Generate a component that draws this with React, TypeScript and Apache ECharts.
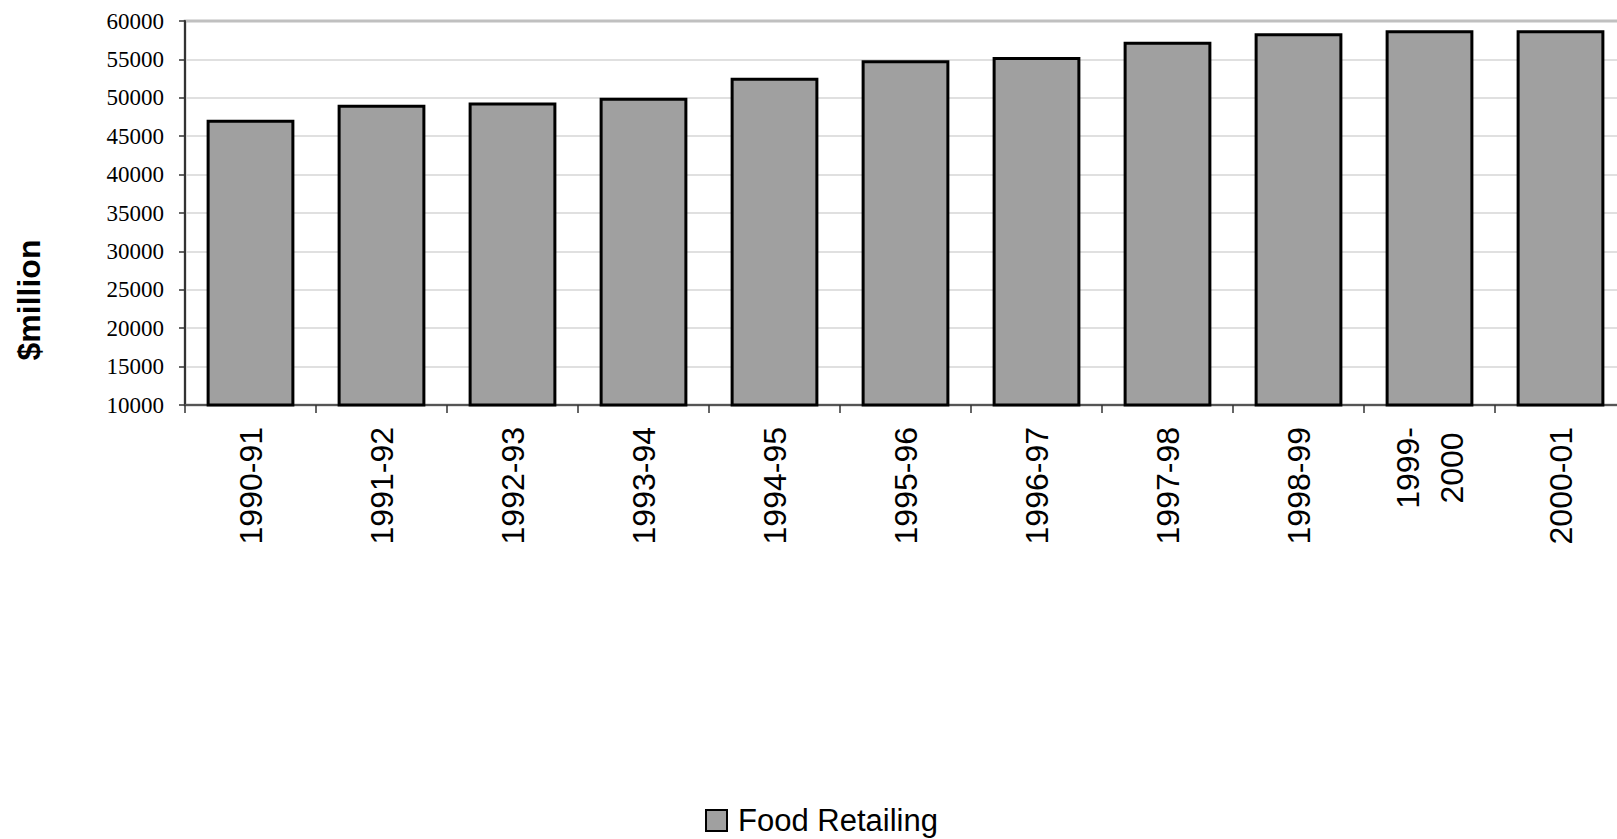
import React, { useEffect, useRef } from "react";
import * as echarts from "echarts";

const categories = [
  "1990-91",
  "1991-92",
  "1992-93",
  "1993-94",
  "1994-95",
  "1995-96",
  "1996-97",
  "1997-98",
  "1998-99",
  "1999-2000",
  "2000-01",
];
const foodRetailing = [47150, 49100, 49400, 50000, 52600, 54900, 55300, 57300, 58400, 58800, 58800];
const seriesName = "Food Retailing";
const yAxisTitle = "$million";
const yMin = 10000;
const yMax = 60000;
const yInterval = 5000;

const SANS = 'Arial, "Liberation Sans", sans-serif';
const SERIF = '"Times New Roman", "Liberation Serif", serif';

export default function App() {
  const ref = useRef<HTMLDivElement>(null);
  useEffect(() => {
    if (!ref.current) return;
    const chart = echarts.init(ref.current, null, { renderer: "svg" });
    chart.setOption({
      animation: false,
      backgroundColor: "#ffffff",
      grid: {
        left: 185,
        top: 21,
        right: 0,
        bottom: 434,
        show: true,
        borderColor: "#808080",
        borderWidth: 2.5,
        containLabel: false,
      },
      legend: {
        data: [seriesName],
        left: 700,
        top: 800,
        itemWidth: 21,
        itemHeight: 21,
        icon: "rect",
        itemStyle: { color: "#a0a0a0", borderColor: "#000", borderWidth: 2 },
        textStyle: { fontFamily: SANS, fontSize: 31, color: "#000", padding: [0, 0, 0, 6] },
      },
      xAxis: {
        type: "category",
        data: categories,
        boundaryGap: true,
        axisLine: { show: true, lineStyle: { color: "#555", width: 2 } },
        axisTick: { show: true, alignWithLabel: false, length: 8, lineStyle: { color: "#333", width: 1.5 } },
        axisLabel: {
          interval: 0,
          rotate: 90,
          margin: 22,
          fontFamily: SANS,
          fontSize: 32,
          color: "#000",
          formatter: (v: string) => {
            if (v === "1999-2000") return "{c|1999-}\n{c|2000}";
            return v;
          },
          rich: {
            c: { align: "center", fontFamily: SANS, fontSize: 32, color: "#000", lineHeight: 44 },
          },
        },
        splitLine: { show: false },
      },
      yAxis: {
        type: "value",
        min: yMin,
        max: yMax,
        interval: yInterval,
        axisLine: { show: true, lineStyle: { color: "#333", width: 2 } },
        axisTick: { show: true, length: 6, lineStyle: { color: "#333", width: 1.5 } },
        axisLabel: {
          fontFamily: SERIF,
          fontSize: 23,
          color: "#000",
          margin: 21,
          formatter: (v: number) => String(v),
        },
        splitLine: { show: true, lineStyle: { color: "#d6d6d6", width: 1.5 } },
      },
      series: [
        {
          name: seriesName,
          type: "bar",
          data: foodRetailing,
          barWidth: "67%",
          itemStyle: { color: "#a0a0a0", borderColor: "#000", borderWidth: 3 },
        },
      ],
      graphic: [
        {
          type: "text",
          x: 29,
          y: 300,
          rotation: Math.PI / 2,
          style: {
            text: yAxisTitle,
            fontFamily: SANS,
            fontWeight: "bold",
            fontSize: 32,
            fill: "#000",
            align: "center",
            verticalAlign: "middle",
          },
        },
      ],
    });
    return () => chart.dispose();
  }, []);
  return (
    <div
      style={{ position: "absolute", left: 0, top: 0, width: "1617px", height: "839px", overflow: "hidden" }}
    >
      <div ref={ref} style={{ position: "absolute", left: 0, top: 0, width: "1626px", height: "839px" }} />
    </div>
  );
}
